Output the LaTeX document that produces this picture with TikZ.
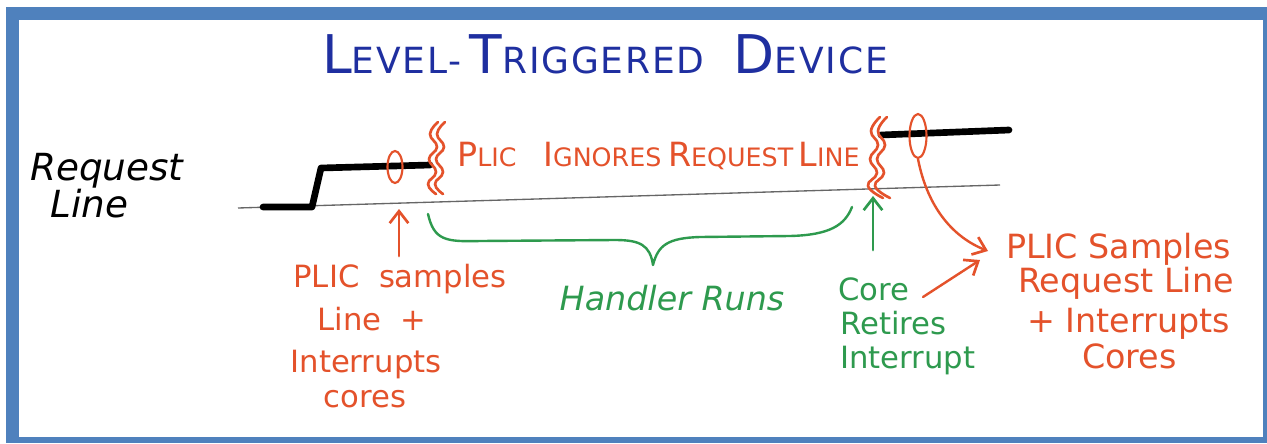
\documentclass[tikz,border=0pt]{standalone}
\usepackage{fontspec}
\setmainfont{DejaVu Sans}
\usetikzlibrary{arrows.meta,shapes.geometric}
\definecolor{frameblue}{HTML}{4F81BD}
\definecolor{titleblue}{HTML}{1F2FA0}
\definecolor{pred}{HTML}{E4522B}
\definecolor{pgreen}{HTML}{2E9A4E}
\newcommand{\TBig}[1]{{\fontsize{40}{40}\selectfont #1}}
\newcommand{\TSm}[1]{{\fontsize{27}{27}\selectfont #1}}
\newcommand{\RBig}[1]{{\fontsize{25}{25}\selectfont #1}}
\newcommand{\RSm}[1]{{\fontsize{19}{19}\selectfont #1}}
\tikzset{
  redpen/.style={draw=pred, line width=2.2pt, line cap=round, line join=round},
  greenpen/.style={draw=pgreen, line width=2.2pt, line cap=round, line join=round},
  arr/.style={-{Straight Barb[length=9pt,width=14pt,line width=2pt]}},
  redtxt/.style={text=pred, font=\fontsize{23}{26}\selectfont, inner sep=0pt},
  greentxt/.style={text=pgreen, font=\fontsize{23}{26}\selectfont, inner sep=0pt},
  blacktxt/.style={text=black, font=\itshape\fontsize{28}{30}\selectfont, inner sep=0pt},
  signal/.style={draw=black, line width=5pt, line cap=round, line join=round},
  oval/.style={ellipse, draw=pred, line width=1.6pt, inner sep=0pt},
}
\begin{document}
\begin{tikzpicture}[x=0.75pt,y=-0.75pt]
\useasboundingbox (0,0) rectangle (1267,443);
\fill[white] (0,0) rectangle (1267,443);
% frame
\fill[frameblue] (6,7) rectangle (1267,443);
\fill[white] (19,20) rectangle (1263,437);

% title
\node[anchor=base west, text=titleblue, inner sep=0pt, font=\addfontfeature{LetterSpace=5}] (title) at (322,73)
  {\TBig{L}\TSm{EVEL-}\hspace{6pt}\TBig{T}\TSm{RIGGERED}\hspace{22pt}\TBig{D}\TSm{EVICE}};

% request line label
\node[blacktxt, anchor=base west] (req) at (30,180) {Request};
\node[blacktxt, anchor=base west] (lin) at (50,217) {Line};

% baseline
\coordinate (b0) at (238,208);
\coordinate (b1) at (1000,185);
\draw[gray!80!black, line width=1pt] (b0) -- (b1);

% signal
\coordinate (s0) at (263,207);
\coordinate (s1) at (312,207);
\coordinate (s2) at (321,168);
\coordinate (s3) at (430,165);
\draw[signal] (s0) -- (s1) -- (s2) -- (s3);
\coordinate (t0) at (881,135);
\coordinate (t1) at (1009,130);
\draw[signal] (t0) -- (t1);

% ellipses
\node[oval, minimum width=11.25pt, minimum height=24pt] (e1) at (395,167) {};
\node[oval, minimum width=12.75pt, minimum height=33pt] (e2) at (918,136) {};

% squiggles
\foreach \dx in {0,7}{
  \draw[redpen, line width=2pt, xshift=\dx*0.75pt] plot[smooth, tension=0.8] coordinates
    {(438,122) (430,134) (437,147) (429,159) (436,172) (428,184) (436,194)};
  \draw[redpen, line width=2pt, xshift=\dx*0.75pt] plot[smooth, tension=0.8] coordinates
    {(880,117) (871,131) (878,145) (870,159) (877,173) (868,186) (883,198)};
}

% red caption in line
\node[anchor=base west, text=pred, inner sep=0pt] (ign) at (457,166)
  {\RBig{P}\RSm{LIC}\hspace{20pt}\RBig{I}\RSm{GNORES}\hspace{5pt}\RBig{R}\RSm{EQUEST}\hspace{4pt}\RBig{L}\RSm{INE}};

% arrow under first ellipse
\coordinate (a1s) at (399,256);
\coordinate (a1e) at (399,209);
\draw[redpen, arr] (a1s) -- (a1e);

% left red text
\node[redtxt, anchor=base] (l1) at (400,287) {PLIC\ \ samples};
\node[redtxt, anchor=base] (l2) at (372,330) {Line\ \ +};
\node[redtxt, anchor=base] (l3) at (366,372) {Interrupts};
\node[redtxt, anchor=base] (l4) at (365,407) {cores};

% green brace
\coordinate (br0) at (428,214);
\coordinate (br1) at (852,207);
\coordinate (brm) at (653,265);
\draw[greenpen, line width=1.8pt] (br0) .. controls (434,240) and (445,242) .. (480,241)
  -- (615,240) .. controls (640,240) and (650,245) .. (brm)
  .. controls (658,245) and (668,238) .. (700,237)
  -- (790,236) .. controls (830,235) and (845,225) .. (br1);

\node[greentxt, font=\itshape\fontsize{25}{30}\selectfont, anchor=base] (hr) at (672,310) {Handler Runs};

% green arrow
\coordinate (g1s) at (873,250);
\coordinate (g1e) at (873,196);
\draw[greenpen, arr] (g1s) -- (g1e);

% core retires
\node[greentxt, anchor=base west] (c1) at (838,300) {Core};
\node[greentxt, anchor=base west] (c2) at (840,334) {Retires};
\node[greentxt, anchor=base west] (c3) at (840,368) {Interrupt};

% right red curve and arrows
\coordinate (tip) at (988,251);
\draw[redpen, line width=1.8pt, arr] (e2.south) .. controls (928,210) and (955,238) .. (tip);
\coordinate (a2s) at (923,297);
\coordinate (a2e) at (980,260);
\draw[redpen, line width=1.8pt, arr] (a2s) -- (a2e);

% right red text
\node[redtxt, font=\fontsize{25}{26}\selectfont, anchor=base west] (r1) at (1006,258) {PLIC Samples};
\node[redtxt, font=\fontsize{25}{26}\selectfont, anchor=base west] (r2) at (1018,292) {Request Line};
\node[redtxt, font=\fontsize{25}{26}\selectfont, anchor=base west] (r3) at (1027,332) {+ Interrupts};
\node[redtxt, font=\fontsize{25}{26}\selectfont, anchor=base west] (r4) at (1082,368) {Cores};
\end{tikzpicture}
\end{document}
